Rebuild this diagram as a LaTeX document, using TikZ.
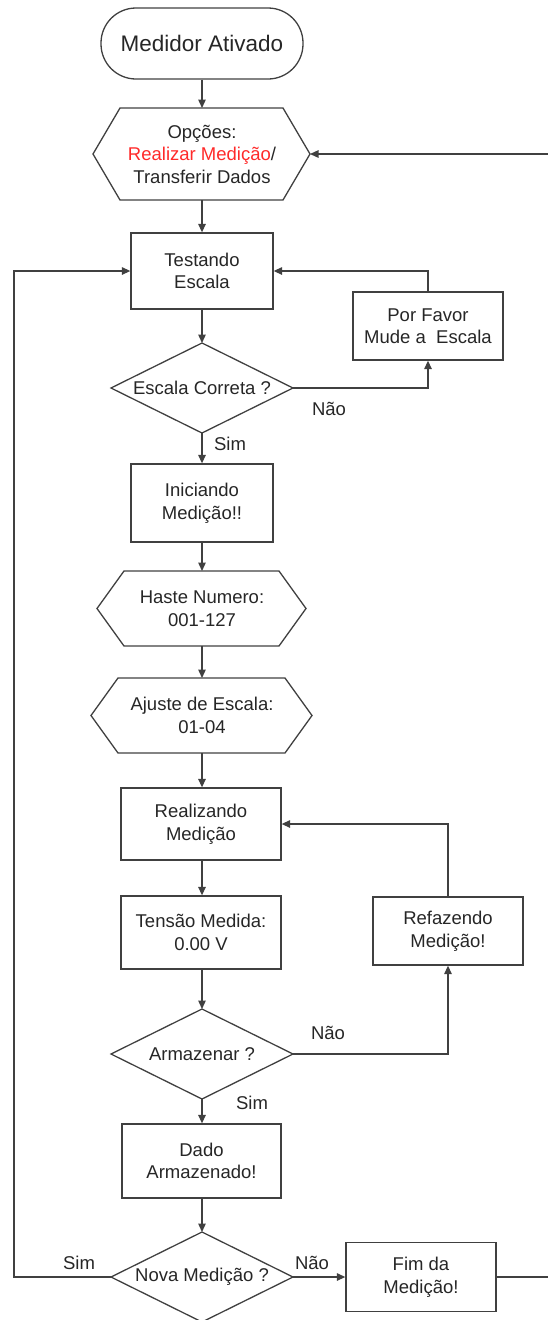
\documentclass[tikz,border=0pt]{standalone}
\usepackage{fontspec}
\setmainfont{Liberation Sans}
\usetikzlibrary{arrows.meta}
\definecolor{ln}{HTML}{404040}
\definecolor{tx}{HTML}{262626}
\definecolor{rd}{HTML}{FF2A2A}
\begin{document}
\begin{tikzpicture}[x=1pt,y=-1pt,
  txt/.style={text=tx,align=center,font=\fontsize{18.5}{22.5}\selectfont,inner sep=0pt},
  box/.style={txt,draw=ln,line width=1.3pt,rectangle},
  shp/.style={draw=ln,line width=1.3pt},
  conn/.style={draw=ln,line width=1.3pt},
  arr/.style={conn,-{Triangle[length=8.5pt,width=7.5pt]}},
  lbl/.style={txt}]
\clip (0,0) rectangle (548,1320);
% start
\node[box,rounded corners=35pt,minimum width=202pt,minimum height=71pt,font=\fontsize{22.5}{26}\selectfont] (start) at (202,43.5) {Medidor Ativado};
% options hexagon
\draw[shp] (93,154) -- (120,108) -- (283,108) -- (310,154) -- (283,200) -- (120,200) -- cycle;
\node[txt] (opt) at (202,154) {Opções:\\\textcolor{rd}{Realizar Medição}/\\Transferir Dados};
\coordinate (optT) at (202,108);
\coordinate (optB) at (202,200);
\coordinate (optR) at (310,154);
\coordinate (inR) at (548,154);
% testing
\node[box,minimum width=142pt,minimum height=76pt] (test) at (202,271) {Testando\\Escala};
\node[box,minimum width=150pt,minimum height=68pt] (pf) at (428,326) {Por Favor\\Mude a\ \ Escala};
% diamond 1
\draw[shp] (111,388) -- (202,343) -- (293,388) -- (202,433) -- cycle;
\node[txt] (d1) at (202,388) {Escala Correta ?};
\coordinate (d1T) at (202,343);
\coordinate (d1B) at (202,433);
\coordinate (d1R) at (293,388);
\node[lbl] (l1) at (329,409) {Não};
\node[lbl] (l2) at (230,444) {Sim};
% init
\node[box,minimum width=142pt,minimum height=78pt] (init) at (202,503) {Iniciando\\Medição!!};
% haste hexagon
\draw[shp] (97,608.5) -- (124,571) -- (279,571) -- (306,608.5) -- (279,646) -- (124,646) -- cycle;
\node[txt] (haste) at (202,608.5) {Haste Numero:\\001-127};
\coordinate (hT) at (202,571);
\coordinate (hB) at (202,646);
% ajuste hexagon
\draw[shp] (91,715.5) -- (118,678) -- (285,678) -- (312,715.5) -- (285,753) -- (118,753) -- cycle;
\node[txt] (aj) at (202,715.5) {Ajuste de Escala:\\01-04};
\coordinate (aT) at (202,678);
\coordinate (aB) at (202,753);
% realizando
\node[box,minimum width=160pt,minimum height=72pt] (real) at (201,824) {Realizando\\Medição};
\node[box,minimum width=160pt,minimum height=73pt] (tens) at (201,932.5) {Tensão Medida:\\0.00 V};
\node[box,minimum width=150pt,minimum height=68pt] (ref) at (448,931) {Refazendo\\Medição!};
% diamond 2
\draw[shp] (111,1054) -- (202,1009) -- (293,1054) -- (202,1099) -- cycle;
\node[txt] (d2) at (202,1054) {Armazenar ?};
\coordinate (d2T) at (202,1009);
\coordinate (d2B) at (202,1099);
\coordinate (d2R) at (293,1054);
\node[lbl] (l3) at (328,1033) {Não};
\node[lbl] (l4) at (252,1103) {Sim};
% dado
\node[box,minimum width=159pt,minimum height=74pt] (dado) at (201.5,1161) {Dado\\Armazenado!};
% diamond 3
\draw[shp] (111,1277) -- (202,1232) -- (293,1277) -- (202,1322) -- cycle;
\node[txt] (d3) at (202,1277) {Nova Medição ?};
\coordinate (d3T) at (202,1232);
\coordinate (d3R) at (293,1277);
\coordinate (d3L) at (111,1277);
\coordinate (leftX) at (14,1277);
\node[lbl] (l5) at (79,1263) {Sim};
\node[lbl] (l6) at (312,1263) {Não};
\node[box,minimum width=150pt,minimum height=69pt] (fim) at (421,1277) {Fim da\\Medição!};
\coordinate (outR) at (548,1277);
% connectors
\draw[arr] (start.south) -- (optT);
\draw[arr] (inR) -- (optR);
\draw[arr] (optB) -- (test.north);
\draw[arr] (test.south) -- (d1T);
\draw[arr] (d1R) -| (pf.south);
\draw[arr] (pf.north) |- (test.east);
\draw[arr] (d1B) -- (init.north);
\draw[arr] (init.south) -- (hT);
\draw[arr] (hB) -- (aT);
\draw[arr] (aB) -- (real.north -| aB);
\draw[arr] (real.south -| aB) -- (tens.north -| aB);
\draw[arr] (tens.south -| aB) -- (d2T);
\draw[arr] (d2R) -| (ref.south);
\draw[arr] (ref.north) |- (real.east);
\draw[arr] (d2B) -- (dado.north -| d2B);
\draw[arr] (dado.south -| d3T) -- (d3T);
\draw[arr] (d3R) -- (fim.west);
\draw[conn] (fim.east) -- (outR);
\draw[arr] (d3L) -- (leftX) |- (test.west);
\end{tikzpicture}
\end{document}
